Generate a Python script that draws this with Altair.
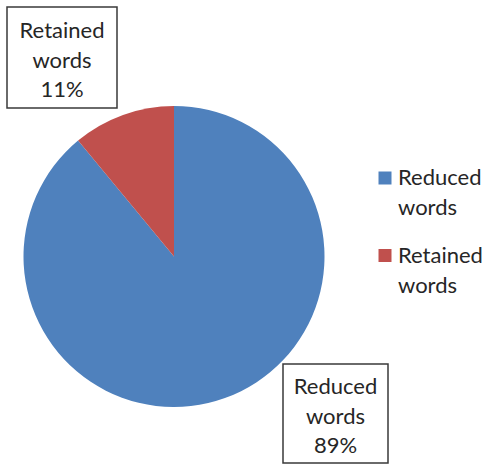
import altair as alt
import pandas as pd

categories = ["Reduced words", "Retained words"]
shares = [89, 11]
colors = ["#4F81BD", "#C0504D"]

df = pd.DataFrame({"category": categories, "share": shares, "order": [0, 1]})
df["label"] = [c.replace(" ", "\n") + f"\n{s}%" for c, s in zip(categories, shares)]
df["legend"] = [c.replace(" ", "\n") for c in categories]

W, H = 491, 466
FONT = "Lato"
TEXT = "#262626"
FS = 22

base = alt.Chart(df)
color = alt.Color("category:N", scale=alt.Scale(domain=categories, range=colors), legend=None)

pie = base.mark_arc(outerRadius=150.5).encode(
    theta=alt.Theta("share:Q", stack=True),
    order=alt.Order("order:Q"),
    color=color,
    x=alt.value(174),
    y=alt.value(256.5),
)

layers = [pie]

# data label boxes (layout)
label_layout = {
    "Retained words": dict(x0=7, x1=117, y0=7, y1=108, cx=62, cy=31),
    "Reduced words": dict(x0=283, x1=388, y0=364, y1=463, cx=335.5, cy=387),
}
for cat, p in label_layout.items():
    sub = base.transform_filter(alt.datum.category == cat)
    layers.append(
        sub.mark_rect(fill="white", stroke="#3a3a3a", strokeWidth=1.5).encode(
            x=alt.value(p["x0"]), x2=alt.value(p["x1"]),
            y=alt.value(p["y0"]), y2=alt.value(p["y1"]),
        )
    )
    layers.append(
        sub.mark_text(font=FONT, fontSize=FS, lineBreak="\n", lineHeight=29.5,
                      align="center", baseline="middle", color=TEXT).encode(
            text="label:N", x=alt.value(p["cx"]), y=alt.value(p["cy"]),
        )
    )

# legend (layout)
legend_layout = {"Reduced words": 178, "Retained words": 255.5}
for cat, ly in legend_layout.items():
    sub = base.transform_filter(alt.datum.category == cat)
    layers.append(
        sub.mark_square(size=169, opacity=1).encode(
            color=color, x=alt.value(385), y=alt.value(ly),
        )
    )
    layers.append(
        sub.mark_text(font=FONT, fontSize=FS, lineBreak="\n", lineHeight=30,
                      align="left", baseline="middle", color=TEXT).encode(
            text="legend:N", x=alt.value(398), y=alt.value(ly),
        )
    )

chart = alt.layer(*layers).properties(
    width=W, height=H, padding=0, autosize="none", background="white"
).configure_view(stroke=None)

chart.save("out.html", embed_options={"renderer": "svg", "actions": False})
